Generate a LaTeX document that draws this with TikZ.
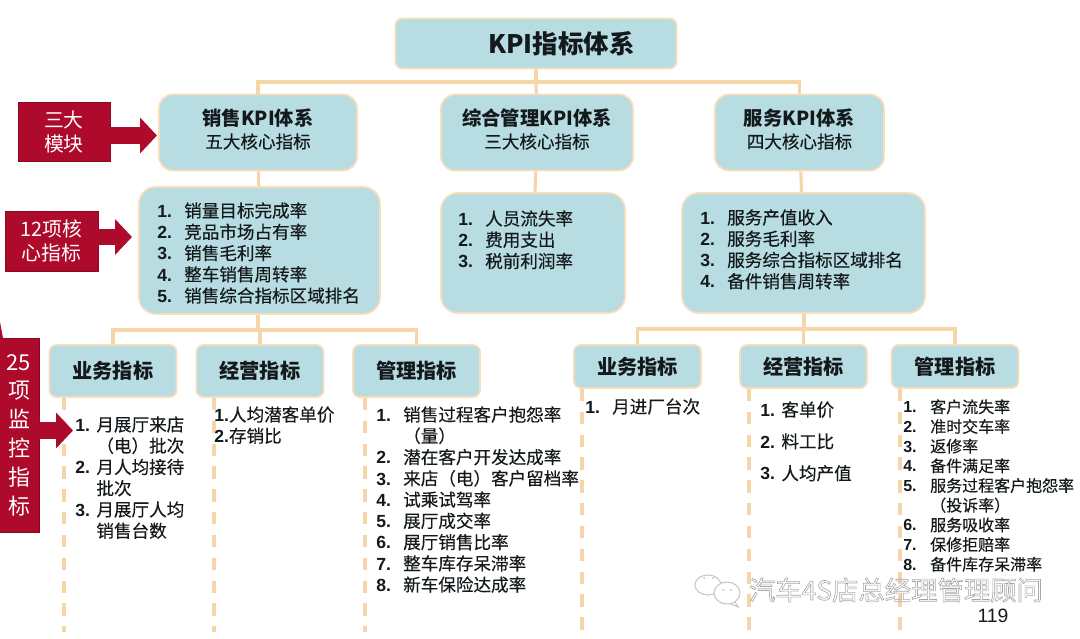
\documentclass[tikz,border=0pt]{standalone}
\usepackage{fontspec}
\setmainfont{Noto Sans CJK SC}
\newfontfamily\numfont{Liberation Sans}
\newfontfamily\listfont[FakeBold=0.25]{Noto Sans CJK SC}
\usetikzlibrary{arrows.meta,positioning,calc}
\definecolor{boxfill}{HTML}{B7DCE1}
\definecolor{boxline}{HTML}{F8DDBB}
\definecolor{linkline}{HTML}{F6D5A9}
\definecolor{tagred}{HTML}{AE0A2B}
\definecolor{inktext}{HTML}{14191C}
\newcommand{\num}[1]{{\numfont\bfseries #1}}
\newcommand{\kpi}[2]{\makebox[15.3pt][l]{\num{#1}}#2}
\newcommand{\kpinarrow}[2]{\makebox[12pt][l]{\num{#1}}#2}
\newcommand{\headtext}[2]{{\fontsize{11}{13}\selectfont\bfseries #1}\\{\listfont #2}\rule[-4.6pt]{0pt}{0pt}}

\begin{document}
\begin{tikzpicture}[
    x=0.02cm, y=-0.02cm,
    box/.style={rectangle, draw=boxline, fill=boxfill, line width=1pt, text=inktext, align=center},
    titlebox/.style={box, rounded corners=0.14cm, minimum width=5.62cm, minimum height=1cm, font=\fontsize{14.5}{17}\selectfont\bfseries},
    headbox/.style={box, rounded corners=0.28cm, minimum height=1.52cm, font=\fontsize{10}{13}\selectfont},
    listbox/.style={box, rounded corners=0.34cm, minimum height=2.4cm},
    subbox/.style={box, rounded corners=0.14cm, minimum width=2.54cm, font=\fontsize{11.5}{14}\selectfont\bfseries},
    items/.style={anchor=north west, inner sep=0pt, align=left, text=inktext, font=\listfont\fontsize{10}{12.1}\selectfont},
    tag/.style={rectangle, fill=tagred, draw=tagred!80!black, line width=0.3pt, text=white, align=center, font=\fontsize{11.3}{14}\selectfont},
    arrow/.style={-{Triangle[length=0.34cm,width=0.7cm]}, tagred, line width=0.34cm},
    link/.style={linkline, line width=1.8pt},
    dashlink/.style={link, dash pattern=on 7pt off 6pt}
]
\useasboundingbox (0,0) rectangle (1080,639);

\node[titlebox] (kpi) at (536,43.5) {\hspace*{29pt}KPI指标体系};
\node[headbox, minimum width=3.96cm] (sales) at (258,132.5) {\headtext{销售KPI体系}{五大核心指标}};
\node[headbox, minimum width=3.84cm] (admin) at (537,132.5) {\headtext{综合管理KPI体系}{三大核心指标}};
\node[headbox, minimum width=3.38cm] (service) at (799.5,132.5) {\headtext{服务KPI体系}{四大核心指标}};

\node[listbox, minimum width=4.82cm, minimum height=2.54cm] (saleslist) at (259.5,250.5) {};
\node[listbox, minimum width=3.68cm] (adminlist) at (533,253) {};
\node[listbox, minimum width=4.86cm] (servicelist) at (803.5,253) {};

\node[subbox, minimum height=1.04cm] (salesbiz) at (113,371) {业务指标};
\node[subbox, minimum height=1.04cm] (salesops) at (260,371) {经营指标};
\node[subbox, minimum height=1.04cm] (salesadm) at (416.5,371) {管理指标};
\node[subbox, minimum height=0.86cm] (servbiz) at (637.5,366.5) {业务指标};
\node[subbox, minimum height=0.86cm] (servops) at (803.5,366.5) {经营指标};
\node[subbox, minimum height=0.86cm] (servadm) at (955,366.5) {管理指标};

\coordinate (topbus) at (536,82);
\coordinate (salesbus) at (258,330);
\coordinate (servbus) at (804,329);
\coordinate (end1) at (64,632);
\coordinate (end2) at (214,632);
\coordinate (end3) at (365,632);
\coordinate (end4) at (582,632);
\coordinate (end5) at (749,632);
\coordinate (end6) at (900,632);

\draw[link] (kpi) -- (topbus);
\draw[link] (topbus) -| (sales);
\draw[link] (topbus) -- (admin);
\draw[link] (topbus) -| (service);
\draw[link] (sales) -- (saleslist);
\draw[link] (admin) -- (adminlist);
\draw[link] (service) -- (servicelist);
\draw[link] (saleslist.south -| salesbus) -- (salesbus);
\draw[link] (salesbus) -| (salesbiz);
\draw[link] (salesbus) -| (salesops);
\draw[link] (salesbus) -| (salesadm);
\draw[link] (servicelist.south -| servbus) -- (servbus);
\draw[link] (servbus) -| (servbiz);
\draw[link] (servbus) -| (servops);
\draw[link] (servbus) -| (servadm);
\draw[dashlink] (salesbiz.south -| end1) -- (end1);
\draw[dashlink] (salesops.south -| end2) -- (end2);
\draw[dashlink] (salesadm.south -| end3) -- (end3);
\draw[dashlink] (servbiz.south -| end4) -- (end4);
\draw[dashlink] (servops.south -| end5) -- (end5);
\draw[dashlink] (servadm.south -| end6) -- (end6);

\node[items] (salesitems) at (157,202) {\kpi{1.}{销量目标完成率}\\\kpi{2.}{竞品市场占有率}\\\kpi{3.}{销售毛利率}\\\kpi{4.}{整车销售周转率}\\\kpi{5.}{销售综合指标区域排名}};
\node[items] (adminitems) at (458,210) {\kpi{1.}{人员流失率}\\\kpi{2.}{费用支出}\\\kpi{3.}{税前利润率}};
\node[items] (serviceitems) at (700,209) {\kpi{1.}{服务产值收入}\\\kpi{2.}{服务毛利率}\\\kpi{3.}{服务综合指标区域排名}\\\kpi{4.}{备件销售周转率}};

\node[items] (bizitems) at (75,416) {\kpinarrow{1.}{月展厅来店}\\\kpinarrow{}{（电）批次}\\\kpinarrow{2.}{月人均接待}\\\kpinarrow{}{批次}\\\kpinarrow{3.}{月展厅人均}\\\kpinarrow{}{销售台数}};
\node[items] (opsitems) at (214,406) {\num{1.}人均潜客单价\\\num{2.}存销比};
\node[items] (admitems) at (376,406) {\kpi{1.}{销售过程客户抱怨率}\\\kpi{}{（量）}\\\kpi{2.}{潜在客户开发达成率}\\\kpi{3.}{来店（电）客户留档率}\\\kpi{4.}{试乘试驾率}\\\kpi{5.}{展厅成交率}\\\kpi{6.}{展厅销售比率}\\\kpi{7.}{整车库存呆滞率}\\\kpi{8.}{新车保险达成率}};

\node[items] (servbizitems) at (585,398) {\kpi{1.}{月进厂台次}};
\node[items, font=\listfont\fontsize{10}{18.1}\selectfont] (servopsitems) at (760,401) {\kpinarrow{1.}{客单价}\\\kpinarrow{2.}{料工比}\\\kpinarrow{3.}{人均产值}};
\node[items, font=\listfont\fontsize{9.1}{11.2}\selectfont] (servadmitems) at (903,399) {\kpi{1.}{客户流失率}\\\kpi{2.}{准时交车率}\\\kpi{3.}{返修率}\\\kpi{4.}{备件满足率}\\\kpi{5.}{服务过程客户抱怨率}\\\kpi{}{（投诉率）}\\\kpi{6.}{服务吸收率}\\\kpi{7.}{保修拒赔率}\\\kpi{8.}{备件库存呆滞率}};

\node[tag, minimum width=1.84cm, minimum height=1.18cm] (tagmodule) at (64,132) {三大\\模块};
\node[tag, minimum width=1.86cm, minimum height=1.2cm] (tagcore) at (51.5,241) {12项核\\心指标};
\node[tag, minimum width=0.8cm, minimum height=3.88cm, font=\fontsize{12.5}{16.4}\selectfont] (tagwatch) at (19,435) {25\\项\\监\\控\\指\\标};
\fill[tagred] (0,322) -- (3,338) -- (0,338) -- cycle;

\coordinate (tip1) at (157,135.5);
\coordinate (tip2) at (132,237);
\coordinate (tip3) at (73,430.5);
\draw[arrow] (tagmodule.east |- tip1) -- (tip1);
\draw[arrow] (tagcore.east |- tip2) -- (tip2);
\draw[arrow] (tagwatch.east |- tip3) -- (tip3);

\draw[gray!45, line width=0.6pt] (708,585) ellipse (13 and 10);
\draw[gray!45, fill=white, line width=0.6pt] (727,593) ellipse (13 and 11);
\draw[gray!45, line width=0.6pt] (735,602) -- (738,607) -- (731,604);
\fill[gray!50] (704,578) circle (1) (713,578) circle (1) (723,590) circle (1) (731,590) circle (1);
\node[text=gray!70, inner sep=0pt, font=\fontsize{15}{18}\selectfont] (mark) at (896,590) {\special{pdf:literal direct 1 Tr 0.35 w}汽车4S店总经理管理顾问\special{pdf:literal direct 0 Tr}};
\node[text=inktext, inner sep=0pt, font=\numfont\fontsize{11}{13}\selectfont] (page) at (993,616) {119};

\end{tikzpicture}
\end{document}
